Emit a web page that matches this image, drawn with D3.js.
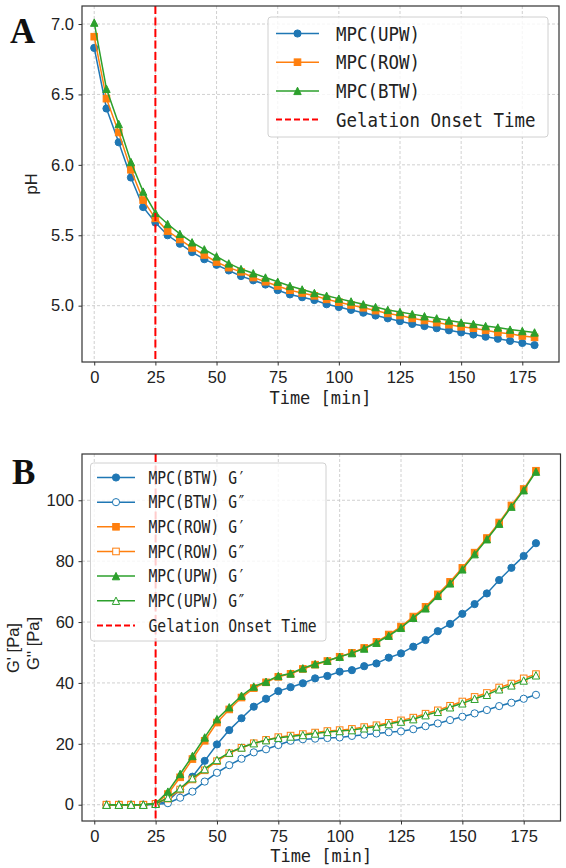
<!DOCTYPE html>
<html lang="en">
  <head>
    <meta charset="UTF-8" />
    <title>pH and modulus vs time</title>
    <script src="https://d3js.org/d3.v7.min.js"></script>
    <style>
      body { margin: 0; background: #fff; }
      .tick text { font-family: "Liberation Sans", Arial, sans-serif; font-size: 16.5px; fill: #222; }
      .mono { font-family: "DejaVu Sans Mono", "Liberation Mono", monospace; fill: #222; }
    </style>
  </head>
  <body>
    <svg id="chart" width="566" height="868"></svg>
    <script>
      // panel A: pH over time
      const timeA = [0, 5, 10, 15, 20, 25, 30, 35, 40, 45, 50, 55, 60, 65, 70, 75, 80, 85, 90,
        95, 100, 105, 110, 115, 120, 125, 130, 135, 140, 145, 150, 155, 160, 165, 170, 175, 180];
      const phUPW = [6.83, 6.40, 6.16, 5.91, 5.70, 5.59, 5.50, 5.44, 5.38, 5.33, 5.29, 5.25, 5.21,
        5.18, 5.15, 5.11, 5.08, 5.06, 5.04, 5.01, 4.99, 4.97, 4.95, 4.93, 4.91, 4.89, 4.87, 4.855,
        4.84, 4.825, 4.81, 4.795, 4.78, 4.765, 4.75, 4.735, 4.72];
      const phROW = [6.91, 6.47, 6.23, 5.965, 5.75, 5.62, 5.53, 5.47, 5.41, 5.36, 5.31, 5.27, 5.24,
        5.20, 5.17, 5.14, 5.11, 5.09, 5.07, 5.045, 5.025, 5.005, 4.985, 4.965, 4.945, 4.93, 4.91,
        4.895, 4.88, 4.865, 4.85, 4.84, 4.825, 4.81, 4.80, 4.785, 4.775];
      const phBTW = [7.01, 6.54, 6.29, 6.02, 5.81, 5.66, 5.58, 5.51, 5.45, 5.40, 5.35, 5.30, 5.26,
        5.23, 5.20, 5.17, 5.14, 5.115, 5.09, 5.07, 5.05, 5.03, 5.01, 4.99, 4.97, 4.955, 4.94, 4.925,
        4.91, 4.895, 4.88, 4.87, 4.855, 4.845, 4.83, 4.82, 4.81];

      // panel B: storage / loss modulus over time
      const timeB = [5, 10, 15, 20, 25, 30, 35, 40, 45, 50, 55, 60, 65, 70, 75, 80, 85, 90, 95,
        100, 105, 110, 115, 120, 125, 130, 135, 140, 145, 150, 155, 160, 165, 170, 175, 180];
      const gpBTW = [0, 0, 0, 0, 0.2, 1.2, 5.0, 9.2, 14.4, 19.8, 24.5, 28.4, 32.2, 34.8, 37.3, 38.6,
        39.9, 41.5, 42.3, 43.7, 44.2, 45.5, 46.4, 48.3, 49.7, 51.9, 54.1, 57.0, 59.4, 62.7, 65.9,
        69.4, 73.8, 77.8, 81.7, 85.9];
      const gppBTW = [0, 0, 0, 0, 0.1, 0.5, 2.3, 4.3, 7.6, 10.5, 13.0, 15.1, 17.2, 18.2, 19.6, 21.0,
        21.5, 21.7, 21.9, 22.1, 22.6, 23.0, 23.4, 23.8, 24.1, 24.8, 25.8, 26.7, 27.8, 28.9, 30.0,
        31.1, 32.4, 33.5, 34.8, 36.1];
      const gpROW = [0, 0, 0, 0, 0.3, 3.5, 9.0, 15.0, 21.0, 27.0, 31.3, 35.2, 38.3, 40.2, 42.0, 43.0,
        44.6, 46.0, 47.2, 48.6, 49.9, 51.5, 53.5, 55.9, 58.5, 61.8, 65.0, 69.1, 73.2, 77.8, 82.8,
        87.6, 92.7, 98.3, 103.7, 109.7];
      const gppROW = [0, 0, 0, 0, 0.3, 2.0, 5.0, 8.3, 11.3, 14.3, 16.9, 18.7, 20.2, 21.3, 22.2, 22.7,
        23.2, 23.7, 24.2, 24.5, 24.9, 25.5, 26.1, 26.9, 27.7, 28.6, 29.9, 31.0, 32.5, 33.9, 35.4,
        36.7, 38.5, 39.8, 41.5, 42.9];
      const gpUPW = [0, 0, 0, 0, 0.4, 4.3, 10.1, 16.0, 22.1, 28.1, 32.0, 35.8, 38.8, 40.4, 42.3, 43.1,
        44.8, 46.2, 47.3, 48.6, 49.8, 51.3, 53.2, 55.5, 58.1, 61.4, 64.5, 68.6, 72.7, 77.3, 82.3,
        87.2, 92.3, 97.9, 103.3, 109.4];
      const gppUPW = [0, 0, 0, 0, 0.3, 2.3, 5.4, 8.7, 11.7, 14.7, 17.1, 18.8, 20.2, 21.2, 22.0, 22.4,
        22.9, 23.4, 23.9, 24.2, 24.5, 25.1, 25.7, 26.5, 27.3, 28.1, 29.4, 30.5, 32.0, 33.3, 34.8,
        36.1, 37.9, 39.2, 40.8, 42.5];

      const gelTime = 25;
      const xTicks = [0, 25, 50, 75, 100, 125, 150, 175];
      const yTicksA = [5.0, 5.5, 6.0, 6.5, 7.0];
      const yTicksB = [0, 20, 40, 60, 80, 100];

      const blue = "#1f77b4", orange = "#ff7f0e", green = "#2ca02c";

      const seriesA = [
        { label: "MPC(UPW)", values: phUPW, color: blue, shape: "circle", open: false },
        { label: "MPC(ROW)", values: phROW, color: orange, shape: "square", open: false },
        { label: "MPC(BTW)", values: phBTW, color: green, shape: "triangle", open: false }
      ];
      const seriesB = [
        { label: "MPC(BTW) G\u2032", values: gpBTW, color: blue, shape: "circle", open: false },
        { label: "MPC(BTW) G\u2033", values: gppBTW, color: blue, shape: "circle", open: true },
        { label: "MPC(ROW) G\u2032", values: gpROW, color: orange, shape: "square", open: false },
        { label: "MPC(ROW) G\u2033", values: gppROW, color: orange, shape: "square", open: true },
        { label: "MPC(UPW) G\u2032", values: gpUPW, color: green, shape: "triangle", open: false },
        { label: "MPC(UPW) G\u2033", values: gppUPW, color: green, shape: "triangle", open: true }
      ];

      const svg = d3.select("#chart");

      function marker(g, shape, cx, cy, color, open) {
        const fill = open ? "#fff" : color;
        if (shape === "circle") {
          g.append("circle").attr("cx", cx).attr("cy", cy).attr("r", 3.6)
            .attr("fill", fill).attr("stroke", color).attr("stroke-width", 1);
        } else if (shape === "square") {
          g.append("rect").attr("x", cx - 3.3).attr("y", cy - 3.3).attr("width", 6.6).attr("height", 6.6)
            .attr("fill", fill).attr("stroke", color).attr("stroke-width", 1);
        } else {
          const h = 3.7;
          g.append("path").attr("d", `M${cx},${cy - h}L${cx + h},${cy + h}L${cx - h},${cy + h}Z`)
            .attr("fill", fill).attr("stroke", color).attr("stroke-width", 1);
        }
      }

      function panel(opt) {
        const { times, series, left, right, top, bottom, yDomain, yTicks, yFormat } = opt;
        const x = d3.scaleLinear().domain([-5, 190]).range([left, right]);
        const y = d3.scaleLinear().domain(yDomain).range([bottom, top]);
        const g = svg.append("g");

        // grid
        g.append("g").selectAll("line").data(xTicks).join("line")
          .attr("x1", d => x(d)).attr("x2", d => x(d)).attr("y1", top).attr("y2", bottom)
          .attr("stroke", "#c4c4c4").attr("stroke-width", 0.8).attr("stroke-dasharray", "3,2");
        g.append("g").selectAll("line").data(yTicks).join("line")
          .attr("y1", d => y(d)).attr("y2", d => y(d)).attr("x1", left).attr("x2", right)
          .attr("stroke", "#c4c4c4").attr("stroke-width", 0.8).attr("stroke-dasharray", "3,2");

        // series
        const line = d3.line().x((d, i) => x(times[i])).y(d => y(d));
        series.forEach(s => {
          const sg = g.append("g");
          sg.append("path").attr("d", line(s.values)).attr("fill", "none")
            .attr("stroke", s.color).attr("stroke-width", 1.5);
          s.values.forEach((v, i) => marker(sg, s.shape, x(times[i]), y(v), s.color, s.open));
        });

        // gelation onset
        g.append("line").attr("x1", x(gelTime)).attr("x2", x(gelTime)).attr("y1", top).attr("y2", bottom)
          .attr("stroke", "#ff0000").attr("stroke-width", 2).attr("stroke-dasharray", "8,3.5");

        // axes
        const ax = g.append("g").attr("transform", `translate(0,${bottom})`)
          .call(d3.axisBottom(x).tickValues(xTicks).tickSize(3.5).tickPadding(5.5).tickFormat(d3.format("d")));
        const ay = g.append("g").attr("transform", `translate(${left},0)`)
          .call(d3.axisLeft(y).tickValues(yTicks).tickSize(3.5).tickPadding(4.5).tickFormat(yFormat));
        [ax, ay].forEach(a => {
          a.select(".domain").remove();
          a.selectAll(".tick line").attr("stroke", "#333");
        });
        g.append("rect").attr("x", left).attr("y", top).attr("width", right - left).attr("height", bottom - top)
          .attr("fill", "none").attr("stroke", "#333").attr("stroke-width", 1.2);

        // x label
        g.append("text").attr("class", "mono").attr("x", (left + right) / 2).attr("y", opt.xLabelY)
          .attr("text-anchor", "middle").attr("font-size", 18.5)
          .attr("textLength", 102).attr("lengthAdjust", "spacingAndGlyphs").text("Time [min]");

        // legend
        const L = opt.legend;
        const lg = g.append("g");
        const items = series.map(s => ({ ...s })).concat([{ label: "Gelation Onset Time", dash: true }]);
        lg.append("rect").attr("x", L.x).attr("y", L.y).attr("width", L.w).attr("height", L.h).attr("rx", 3)
          .attr("fill", "#fff").attr("fill-opacity", 0.8).attr("stroke", "#d0d0d0").attr("stroke-width", 1);
        items.forEach((it, i) => {
          const cy = L.firstRow + i * L.step;
          if (it.dash) {
            lg.append("line").attr("x1", L.hx1).attr("x2", L.hx2).attr("y1", cy).attr("y2", cy)
              .attr("stroke", "#ff0000").attr("stroke-width", 2).attr("stroke-dasharray", "6,3");
          } else {
            lg.append("line").attr("x1", L.hx1).attr("x2", L.hx2).attr("y1", cy).attr("y2", cy)
              .attr("stroke", it.color).attr("stroke-width", 1.5);
            marker(lg, it.shape, (L.hx1 + L.hx2) / 2, cy, it.color, it.open);
          }
          lg.append("text").attr("class", "mono").attr("x", L.tx).attr("y", cy + L.fs * 0.36)
            .attr("font-size", L.fs).attr("textLength", it.label.length * L.cw)
            .attr("lengthAdjust", "spacingAndGlyphs").text(it.label);
        });
        return { x, y };
      }

      panel({
        times: timeA, series: seriesA, left: 82, right: 559, top: 6, bottom: 362,
        yDomain: [4.6, 7.128], yTicks: yTicksA, yFormat: d3.format(".1f"), xLabelY: 404,
        legend: { x: 268, y: 17, w: 280, h: 120, firstRow: 33.5, step: 28.7, hx1: 276, hx2: 319,
          tx: 336, fs: 20, cw: 10.5 }
      });
      panel({
        times: timeB, series: seriesB, left: 82, right: 560.5, top: 454, bottom: 821,
        yDomain: [-5.35, 115.2], yTicks: yTicksB, yFormat: d3.format("d"), xLabelY: 862,
        legend: { x: 90.5, y: 463, w: 235.5, h: 178, firstRow: 477.5, step: 24.65, hx1: 97, hx2: 135,
          tx: 148.5, fs: 17, cw: 8.85 }
      });

      // y labels and panel letters
      svg.append("text").attr("transform", "translate(37,184) rotate(-90)").attr("text-anchor", "middle")
        .attr("font-family", "Liberation Sans, Arial, sans-serif").attr("font-size", 16.5).attr("fill", "#222")
        .text("pH");
      svg.append("text").attr("transform", "translate(19,673) rotate(-90)")
        .attr("font-family", "Liberation Sans, Arial, sans-serif").attr("font-size", 16.5).attr("fill", "#222")
        .text("G' [Pa]");
      svg.append("text").attr("transform", "translate(39,670) rotate(-90)")
        .attr("font-family", "Liberation Sans, Arial, sans-serif").attr("font-size", 16.5).attr("fill", "#222")
        .text("G'' [Pa]");
      svg.append("text").attr("x", 10).attr("y", 43).attr("font-family", "Liberation Serif, serif")
        .attr("font-weight", "bold").attr("font-size", 35).attr("fill", "#111").text("A");
      svg.append("text").attr("x", 12).attr("y", 484).attr("font-family", "Liberation Serif, serif")
        .attr("font-weight", "bold").attr("font-size", 35).attr("fill", "#111").text("B");
    </script>
  </body>
</html>
